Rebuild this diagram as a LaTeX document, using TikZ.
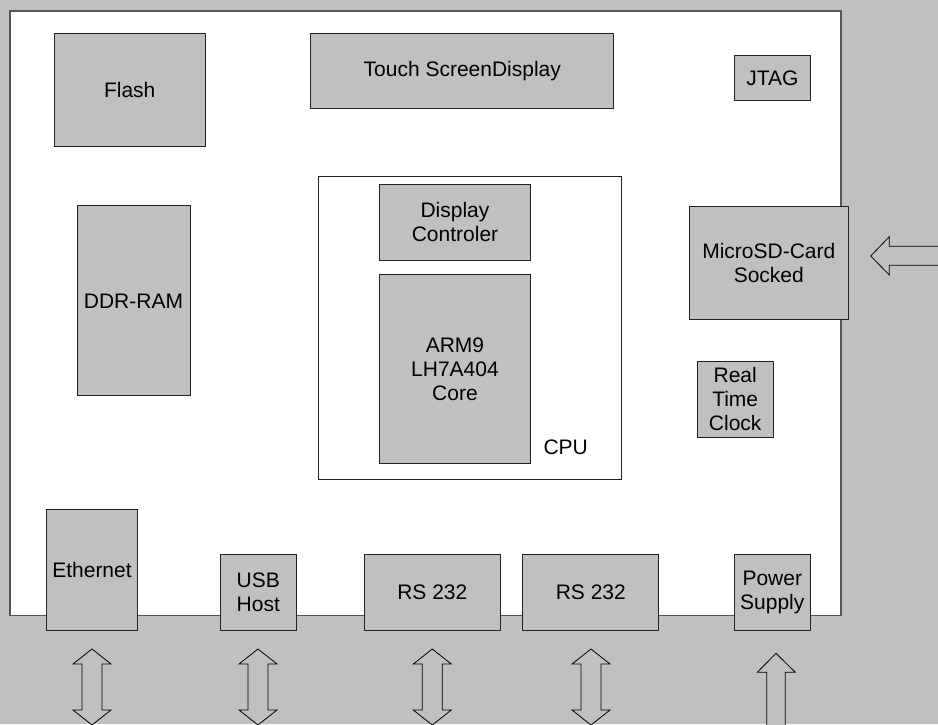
\documentclass[tikz,border=0pt]{standalone}
\usepackage{fontspec}
\setmainfont{Liberation Sans}
\definecolor{bggray}{HTML}{C0C0C0}
\definecolor{boardline}{HTML}{555555}
\definecolor{boxline}{HTML}{222222}
\begin{document}
\begin{tikzpicture}[x=1pt,y=-1pt,
  blk/.style={draw=boxline, fill=bggray, line width=1pt, rectangle, inner sep=0pt,
    align=center, font=\fontsize{21}{24}\selectfont},
  cpubox/.style={draw=boxline, fill=white, line width=1pt, rectangle, inner sep=0pt},
  lbl/.style={inner sep=0pt, font=\fontsize{21}{24}\selectfont},
  arr/.style={draw=black, fill=bggray, line width=0.8pt, line join=miter}]
\useasboundingbox (0,0) rectangle (938,724);
\fill[bggray] (0,0) rectangle (938,724);
% board
\draw[boardline, fill=white, line width=1.2pt] (10,11) rectangle (841,615.5);
% top row
\node[blk, minimum width=151.5pt, minimum height=113pt] (flash) at (129.75,89.5) {Flash};
\node[blk, minimum width=302.7pt, minimum height=75.3pt] (touch) at (462.3,70.7) {Touch ScreenDisplay};
\node[blk, minimum width=76pt, minimum height=45.4pt] (jtag) at (772.3,78) {JTAG};
% memory
\node[blk, minimum width=113pt, minimum height=189.7pt] (ddr) at (133.5,300.8) {DDR-RAM};
% CPU
\node[cpubox, minimum width=302.7pt, minimum height=302.6pt] (cpu) at (470.3,328) {};
\node[blk, minimum width=151.4pt, minimum height=76pt] (dispc) at (455,222) {Display\\Controler};
\node[blk, minimum width=151.4pt, minimum height=189.3pt] (core) at (455,369.3) {ARM9\\LH7A404\\Core};
\node[lbl] (cpulbl) at (565.7,447.7) {CPU};
% right side
\node[blk, minimum width=159pt, minimum height=113.3pt] (sd) at (768.8,263.3) {MicroSD-Card\\Socked};
\node[blk, minimum width=75.7pt, minimum height=75.7pt] (rtc) at (735.2,399.2) {Real\\Time\\Clock};
% bottom row
\node[blk, minimum width=91.4pt, minimum height=121pt] (eth) at (92,569.8) {Ethernet};
\node[blk, minimum width=76pt, minimum height=75.6pt] (usb) at (258.3,592.5) {USB\\Host};
\node[blk, minimum width=136pt, minimum height=75.6pt] (rsa) at (432.3,592.5) {RS 232};
\node[blk, minimum width=136.3pt, minimum height=75.6pt] (rsb) at (590.8,592.5) {RS 232};
\node[blk, minimum width=76pt, minimum height=75.6pt] (pwr) at (772.3,592.5) {Power\\Supply};
% double arrows below interfaces
\foreach \cx in {92,258,432.3,591}{
  \draw[arr] (\cx,649) -- (\cx+19,664) -- (\cx+10,664) -- (\cx+10,710) -- (\cx+19,710)
    -- (\cx,725) -- (\cx-19,710) -- (\cx-10,710) -- (\cx-10,664) -- (\cx-19,664) -- cycle;
}
% power arrow (up)
\draw[arr] (776,653.3) -- (795.3,672.3) -- (785.3,672.3) -- (785.3,730) -- (766.7,730)
  -- (766.7,672.3) -- (757.3,672.3) -- cycle;
% SD card arrow (left)
\draw[arr] (870.7,256) -- (889.3,236.7) -- (889.3,246.3) -- (945,246.3) -- (945,265.3)
  -- (889.3,265.3) -- (889.3,275) -- cycle;
\end{tikzpicture}
\end{document}
